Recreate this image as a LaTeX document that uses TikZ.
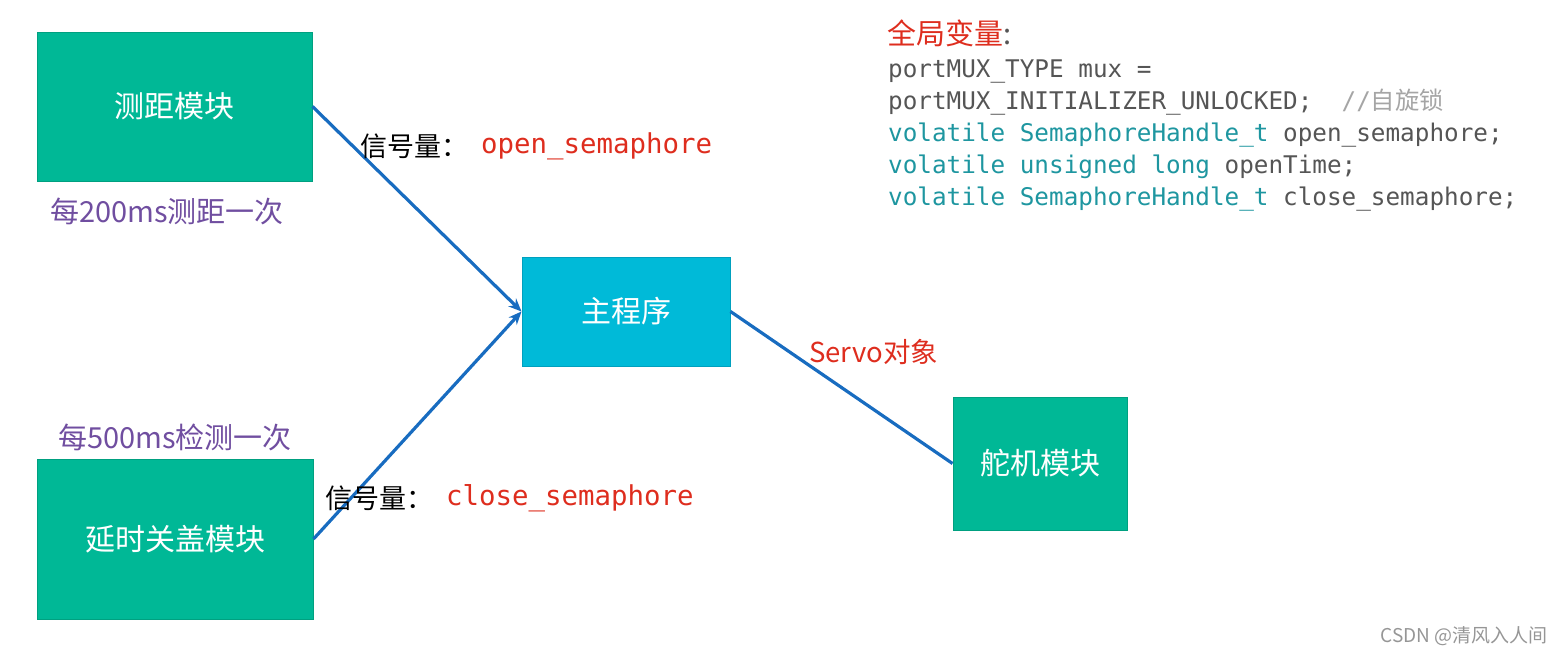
\documentclass[tikz,border=0pt]{standalone}
\usepackage{fontspec}
\setmainfont{Noto Sans CJK SC}
\newfontfamily\cjk{Noto Sans CJK SC}
\newfontfamily\codefont{DejaVu Sans Mono}
\usetikzlibrary{arrows.meta}

\definecolor{modgreen}{RGB}{0,184,150}
\definecolor{modgreenedge}{RGB}{0,160,128}
\definecolor{maincyan}{RGB}{0,186,216}
\definecolor{maincyanedge}{RGB}{0,160,190}
\definecolor{linkblue}{RGB}{24,108,192}
\definecolor{sigred}{RGB}{222,45,30}
\definecolor{notepurple}{RGB}{112,78,160}
\definecolor{codegray}{RGB}{85,85,85}
\definecolor{codeteal}{RGB}{30,150,160}
\definecolor{commentgray}{RGB}{165,165,165}
\definecolor{markgray}{RGB}{150,150,150}

\tikzset{
  module/.style={rectangle, fill=modgreen, draw=modgreenedge, line width=1pt,
    text=white, font=\cjk\fontsize{30}{34}\selectfont, inner sep=0pt},
  mainbox/.style={module, fill=maincyan, draw=maincyanedge},
  link/.style={draw=linkblue, line width=3.2pt},
  arrowlink/.style={link, -{Stealth[length=13pt,width=11pt]}},
  tag/.style={inner sep=0pt, anchor=west, font=\cjk\fontsize{27}{30}\selectfont},
  sig/.style={inner sep=0pt, anchor=west, text=sigred, font=\codefont\fontsize{27.4}{30}\selectfont},
  note/.style={inner sep=0pt, anchor=west, text=notepurple, font=\cjk\fontsize{29}{32}\selectfont},
  codeline/.style={inner sep=0pt, anchor=base west, text=codegray, font=\codefont\fontsize{24.3}{28}\selectfont},
}

\begin{document}
\begin{tikzpicture}[x=1pt, y=-1pt]
  \useasboundingbox (0,0) rectangle (1564,656);

  % modules
  \node[module, minimum width=275pt, minimum height=149pt] (range) at (174.5,106.5) {测距模块};
  \node[module, minimum width=276pt, minimum height=160pt] (lid) at (175,539) {延时关盖模块};
  \node[mainbox, minimum width=208pt, minimum height=109pt] (main) at (626,311.5) {主程序};
  \node[module, minimum width=174pt, minimum height=133pt] (servo) at (1040,463.5) {舵机模块};

  % connectors
  \draw[arrowlink] (range.east) -- (main.west);
  \draw[arrowlink] (lid.east) -- (main.west);
  \draw[link] (main.east) -- (servo.west);

  % connector labels
  \node[tag] (sigA) at (360,146) {信号量：};
  \node[sig] (sigAname) at (481,146) {open\_semaphore};
  \node[tag] (sigB) at (325,498) {信号量：};
  \node[sig] (sigBname) at (446,498) {close\_semaphore};
  \node[tag, text=sigred, font=\cjk\fontsize{27.5}{30}\selectfont] (servoobj) at (809,352) {Servo对象};

  % timing notes
  \node[note] (noteA) at (50,211) {每200ms测距一次};
  \node[note] (noteB) at (58,437) {每500ms检测一次};

  % global variables
  \node[inner sep=0pt, anchor=west, font=\cjk\fontsize{29}{32}\selectfont] (glob) at (887,33)
    {\textcolor{sigred}{全局变量}\textcolor{codegray}{:}};
  \node[codeline] (c1) at (888,77) {portMUX\_TYPE mux =};
  \node[codeline] (c2) at (888,109) {portMUX\_INITIALIZER\_UNLOCKED;\ \ \textcolor{commentgray}{//{\cjk\fontsize{24.3}{28}\selectfont 自旋锁}}};
  \node[codeline] (c3) at (888,141) {\textcolor{codeteal}{volatile SemaphoreHandle\_t} open\_semaphore;};
  \node[codeline] (c4) at (888,173) {\textcolor{codeteal}{volatile unsigned long} openTime;};
  \node[codeline] (c5) at (888,205) {\textcolor{codeteal}{volatile SemaphoreHandle\_t} close\_semaphore;};

  % signature
  \node[inner sep=0pt, anchor=east, text=markgray, font=\cjk\fontsize{19}{21}\selectfont] (mark) at (1548,636) {CSDN @清风入人间};
\end{tikzpicture}
\end{document}
